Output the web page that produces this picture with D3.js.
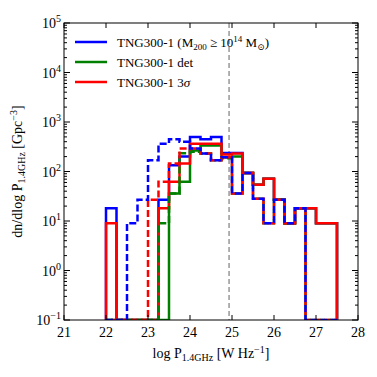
<!DOCTYPE html>
<html lang="en">
<head>
<meta charset="utf-8">
<title>Radio luminosity function</title>
<script src="https://cdn.jsdelivr.net/npm/d3@7"></script>
<style>
  body { margin: 0; background: #fff; }
  text { font-family: "Liberation Serif", "DejaVu Serif", serif; }
</style>
</head>
<body>
<div id="chart"></div>
<script>
// bin left edges, width 0.25 dex
var binLeft = [22.0, 22.25, 22.5, 22.75, 23.0, 23.25, 23.5, 23.75, 24.0, 24.25, 24.5,
               24.75, 25.0, 25.25, 25.5, 25.75, 26.0, 26.25, 26.5, 26.75, 27.0, 27.25];
var binWidth = 0.25;

// solid: TNG300-1 (M200 >= 1e14), det, 3 sigma
var allSolid = [18, 0, 0, 0, 0, 27, 133, 200, 497, 450, 497, 237, 237, 93, 54, 71, 27, 9, 18, 18, 9, 9];
var detSolid = [0, 0, 0, 0, 0, 0, 36, 62, 267, 337, 337, 195, 200, 93, 54, 71, 27, 9, 18, 18, 9, 9];
var sigSolid = [9, 0, 0, 0, 0, 18, 62, 145, 365, 365, 365, 220, 230, 93, 54, 71, 27, 9, 18, 18, 9, 9];
// dashed counterparts
var allDashed = [0, 0, 9, 27, 168, 365, 446, 401, 290, 230, 168, 195, 36, 93, 28, 9, 27, 9, 18, 0, 0, 0];
var detDashed = [0, 0, 0, 0, 0, 9, 36, 235, 250, 230, 168, 185, 36, 93, 28, 9, 27, 9, 18, 0, 0, 0];
var sigDashed = [0, 0, 0, 0, 27, 62, 145, 290, 290, 230, 168, 195, 36, 93, 28, 9, 27, 9, 18, 0, 0, 0];

var xTicks = [21, 22, 23, 24, 25, 26, 27, 28];
var yTicks = [1e-1, 1e0, 1e1, 1e2, 1e3, 1e4, 1e5];
var cutLogP = 24.93;

var W = 377, H = 377;
var margin = {top: 23, right: 19, bottom: 57, left: 64};
var width = W - margin.left - margin.right,
    height = H - margin.top - margin.bottom;

var svg = d3.select("#chart").append("svg")
    .attr("width", W)
    .attr("height", H);
var g = svg.append("g")
    .attr("transform", "translate(" + margin.left + "," + margin.top + ")");

var x = d3.scaleLinear().domain([21, 28]).range([0, width]);
var y = d3.scaleLog().domain([1e-1, 1e5]).range([height, 0]);

// step outline like matplotlib histtype='step'
function stepPoints(vals) {
    var pts = [];
    var floor = 1e-1;
    for (var i = 0; i < vals.length; i++) {
        var v = vals[i] > 0 ? vals[i] : floor;
        var x0 = binLeft[i], x1 = binLeft[i] + binWidth;
        pts.push([x0, v], [x1, v]);
    }
    return [[binLeft[0], floor]].concat(pts, [[binLeft[binLeft.length - 1] + binWidth, floor]]);
}
var line = d3.line()
    .x(function(d) { return x(d[0]); })
    .y(function(d) { return y(d[1]); });

g.append("clipPath").attr("id", "clip")
    .append("rect").attr("width", width).attr("height", height);
var plot = g.append("g").attr("clip-path", "url(#clip)");

// vertical cut
plot.append("line")
    .attr("x1", x(cutLogP)).attr("x2", x(cutLogP))
    .attr("y1", 0).attr("y2", height)
    .style("stroke", "#888").style("stroke-width", 1.3)
    .style("stroke-dasharray", "5,3");

// solids first, dashed on top (red dashes offset so overlaps look red+blue)
var series = [
    {vals: allSolid, color: "#0000ff", dash: null, off: 0},
    {vals: detSolid, color: "#008000", dash: null, off: 0},
    {vals: sigSolid, color: "#ff0000", dash: null, off: 0},
    {vals: detDashed, color: "#008000", dash: "7,3", off: 0},
    {vals: sigDashed, color: "#ff0000", dash: "7,3", off: 5},
    {vals: allDashed, color: "#0000ff", dash: "7,3", off: 0}
];
series.forEach(function(s) {
    plot.append("path")
        .datum(stepPoints(s.vals))
        .attr("d", line)
        .style("fill", "none")
        .style("stroke", s.color)
        .style("stroke-width", 2.5)
        .style("stroke-dasharray", s.dash)
        .style("stroke-dashoffset", s.off);
});

// frame
g.append("rect").attr("width", width).attr("height", height)
    .style("fill", "none").style("stroke", "#000").style("stroke-width", 1);

// x ticks (inward, top and bottom)
xTicks.forEach(function(t) {
    g.append("line").attr("x1", x(t)).attr("x2", x(t)).attr("y1", height).attr("y2", height - 5)
        .style("stroke", "#000");
    g.append("line").attr("x1", x(t)).attr("x2", x(t)).attr("y1", 0).attr("y2", 5)
        .style("stroke", "#000");
    g.append("text").attr("x", x(t)).attr("y", height + 17)
        .attr("text-anchor", "middle").style("font-size", "14px").text(t);
});

// y ticks, major + minor
yTicks.forEach(function(t, i) {
    var yy = y(t);
    g.append("line").attr("x1", 0).attr("x2", 6).attr("y1", yy).attr("y2", yy).style("stroke", "#000");
    g.append("line").attr("x1", width).attr("x2", width - 6).attr("y1", yy).attr("y2", yy).style("stroke", "#000");
    var exp = Math.round(Math.log10(t));
    var lab = g.append("text").attr("x", -3).attr("y", yy + 5)
        .attr("text-anchor", "end").style("font-size", "14px");
    lab.append("tspan").text("10");
    lab.append("tspan").attr("dy", -6).style("font-size", "10px").text(exp < 0 ? "\u2212" + (-exp) : exp);
    if (i < yTicks.length - 1) {
        for (var m = 2; m < 10; m++) {
            var ym = y(t * m);
            g.append("line").attr("x1", 0).attr("x2", 3).attr("y1", ym).attr("y2", ym).style("stroke", "#000");
            g.append("line").attr("x1", width).attr("x2", width - 3).attr("y1", ym).attr("y2", ym).style("stroke", "#000");
        }
    }
});

// axis labels
var xl = svg.append("text").attr("x", margin.left + width / 2).attr("y", 358)
    .attr("text-anchor", "middle").style("font-size", "14px");
xl.append("tspan").text("log P");
xl.append("tspan").attr("dy", 3).style("font-size", "10px").text("1.4GHz");
xl.append("tspan").attr("dy", -3).text(" [W Hz");
xl.append("tspan").attr("dy", -5).style("font-size", "10px").text("\u22121");
xl.append("tspan").attr("dy", 5).text("]");

var yl = svg.append("text")
    .attr("transform", "translate(22," + (margin.top + height / 2) + ") rotate(-90)")
    .attr("text-anchor", "middle").style("font-size", "14px");
yl.append("tspan").text("dn/dlog P");
yl.append("tspan").attr("dy", 3).style("font-size", "10px").text("1.4GHz");
yl.append("tspan").attr("dy", -3).text(" [Gpc");
yl.append("tspan").attr("dy", -5).style("font-size", "10px").text("\u22123");
yl.append("tspan").attr("dy", 5).text("]");

// legend
var legend = [
    {color: "#0000ff", label: "all"},
    {color: "#008000", label: "det"},
    {color: "#ff0000", label: "sig"}
];
legend.forEach(function(d, i) {
    var ly = 19 + i * 20;
    g.append("line").attr("x1", 11).attr("x2", 43).attr("y1", ly).attr("y2", ly)
        .style("stroke", d.color).style("stroke-width", 2.5);
    var t = g.append("text").attr("x", 53).attr("y", ly + 5).style("font-size", "13px");
    t.append("tspan").text("TNG300-1 ");
    if (d.label === "all") {
        t.append("tspan").text("(M");
        t.append("tspan").attr("dy", 3).style("font-size", "9px").text("200");
        t.append("tspan").attr("dy", -3).text(" \u2265 10");
        t.append("tspan").attr("dy", -5).style("font-size", "9px").text("14");
        t.append("tspan").attr("dy", 5).text(" M");
        t.append("tspan").attr("dy", 3).style("font-size", "9px").text("\u2299");
        t.append("tspan").attr("dy", -3).text(")");
    } else if (d.label === "det") {
        t.append("tspan").text("det");
    } else {
        t.append("tspan").text("3");
        t.append("tspan").style("font-style", "italic").text("\u03c3");
    }
});
</script>
</body>
</html>
